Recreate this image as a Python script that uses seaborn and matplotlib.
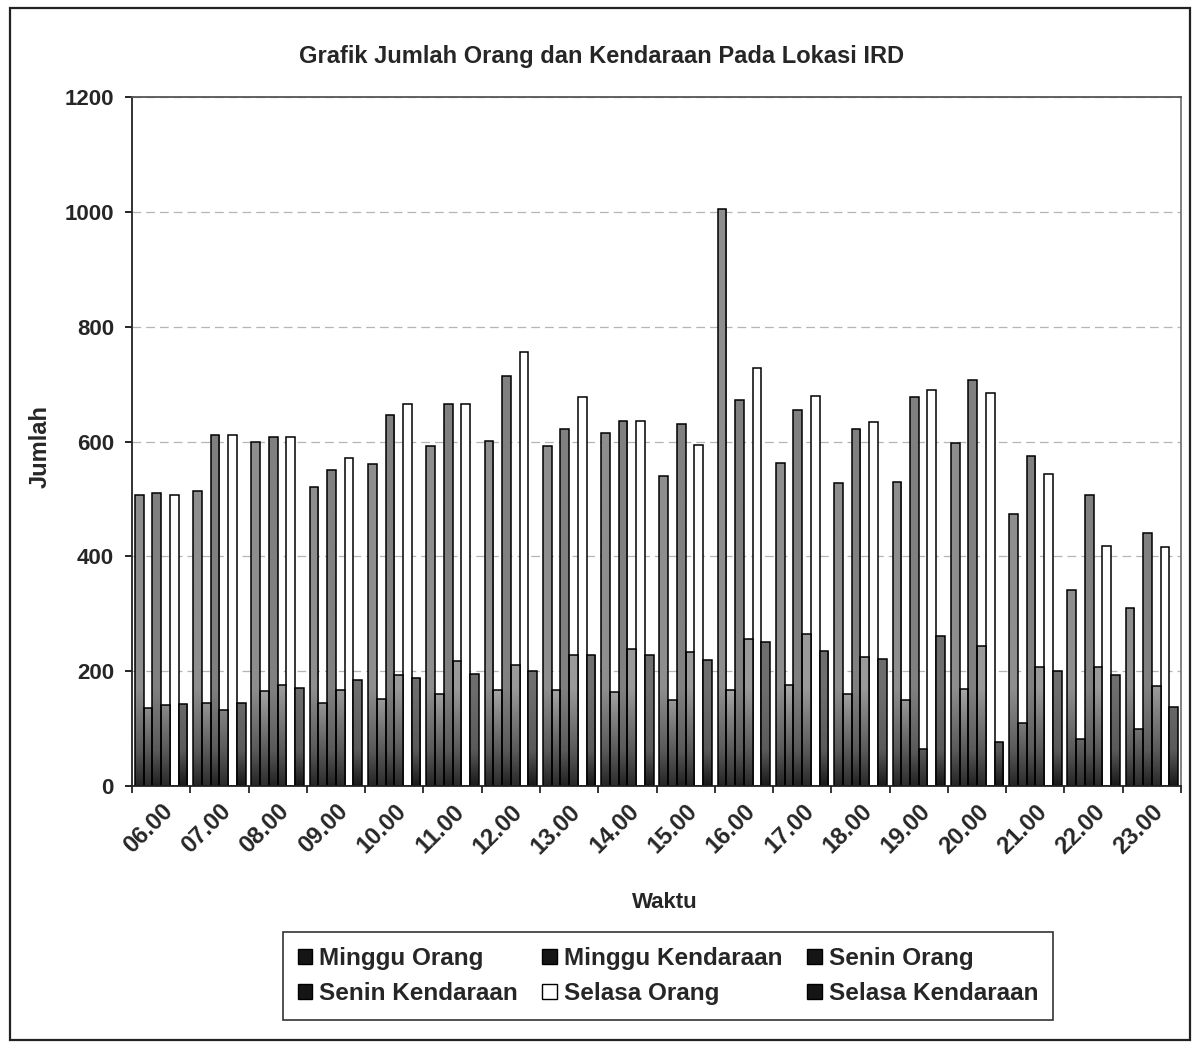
import numpy as np
import pandas as pd
import matplotlib
matplotlib.use("Agg")
import matplotlib.pyplot as plt
from matplotlib.colors import LinearSegmentedColormap
from matplotlib.patches import Patch, Rectangle
import seaborn as sns

# Hourly counts at the IRD location
waktu = ["06.00", "07.00", "08.00", "09.00", "10.00", "11.00", "12.00", "13.00", "14.00",
         "15.00", "16.00", "17.00", "18.00", "19.00", "20.00", "21.00", "22.00", "23.00"]

minggu_orang = [507, 513, 600, 520, 560, 593, 601, 593, 615, 540, 1005, 563, 527, 530, 597, 474, 341, 310]
minggu_kendaraan = [136, 144, 165, 144, 152, 160, 167, 168, 164, 149, 167, 176, 160, 149, 169, 110, 81, 99]
senin_orang = [510, 612, 607, 550, 647, 666, 714, 622, 635, 631, 673, 654, 622, 677, 707, 575, 507, 441]
senin_kendaraan = [141, 133, 176, 167, 193, 217, 210, 228, 239, 233, 256, 264, 225, 65, 244, 207, 207, 175]
selasa_orang = [507, 612, 607, 571, 666, 666, 756, 677, 636, 594, 728, 680, 634, 690, 684, 543, 418, 417]
selasa_kendaraan = [142, 144, 171, 184, 188, 195, 201, 228, 229, 219, 251, 235, 222, 262, 77, 200, 193, 137]

seri = ["Minggu Orang", "Minggu Kendaraan", "Senin Orang",
        "Senin Kendaraan", "Selasa Orang", "Selasa Kendaraan"]
nilai = [minggu_orang, minggu_kendaraan, senin_orang,
         senin_kendaraan, selasa_orang, selasa_kendaraan]

df = pd.concat(
    [pd.DataFrame({"Waktu": waktu, "Jumlah": v, "Seri": s}) for s, v in zip(seri, nilai)],
    ignore_index=True,
)

# Bar shades (body colour, dark foot colour)
warna = {
    "Minggu Orang": ("#8e8e8e", "#262626"),
    "Minggu Kendaraan": ("#a8a8a8", "#2e2e2e"),
    "Senin Orang": ("#808080", "#222222"),
    "Senin Kendaraan": ("#9a9a9a", "#2a2a2a"),
    "Selasa Orang": ("#ffffff", "#ffffff"),
    "Selasa Kendaraan": ("#6e6e6e", "#1a1a1a"),
}

sns.set_theme(style="white")
plt.rcParams["font.family"] = ["Liberation Sans", "DejaVu Sans"]
plt.rcParams["font.weight"] = "bold"

W, H = 1196, 1046
fig = plt.figure(figsize=(W / 100, H / 100), dpi=100)
fig.patch.set_facecolor("white")

ax_l, ax_r, ax_t, ax_b = 132, 1181, 97, 786
ax = fig.add_axes([ax_l / W, 1 - ax_b / H, (ax_r - ax_l) / W, (ax_b - ax_t) / H])

sns.barplot(
    data=df, x="Waktu", y="Jumlah", hue="Seri", order=waktu, hue_order=seri,
    palette={k: v[0] for k, v in warna.items()}, saturation=1, width=0.9,
    errorbar=None, edgecolor="black", linewidth=1.1, legend=False, ax=ax,
)

# Vertical shading on the bars: dark foot fading into the body colour
grad = np.linspace(0, 1, 256).reshape(-1, 1)
for cont, nama in zip(ax.containers, seri):
    if nama == "Selasa Orang":
        continue
    body, foot = warna[nama]
    cmap = LinearSegmentedColormap.from_list(
        nama, [(0.0, foot), (0.05, "#5a5a5a"), (0.14, body), (1.0, body)])
    for bar in cont:
        x0 = bar.get_x()
        x1 = x0 + bar.get_width()
        im = ax.imshow(grad, extent=[x0, x1, 0, 1200], origin="lower", cmap=cmap,
                       vmin=0, vmax=1, aspect="auto", interpolation="bilinear", zorder=1.5)
        im.set_clip_path(bar)
        bar.set_facecolor("none")
        bar.set_zorder(2)

ax.set_xlim(-0.5, len(waktu) - 0.5)
ax.set_ylim(0, 1200)
ax.set_yticks(range(0, 1201, 200))
ax.yaxis.grid(True, color="#b5b5b5", linestyle=(0, (7, 4)), linewidth=0.9)
ax.set_axisbelow(True)

for s in ax.spines.values():
    s.set_visible(True)
    s.set_color("#222222")
    s.set_linewidth(1.3)
ax.spines["right"].set_color("#777777")
ax.spines["top"].set_color("#555555")

ax.tick_params(axis="y", which="major", direction="out", length=5, width=1.2,
               color="black", labelsize=16, pad=8, left=True)
ax.set_xticks(range(len(waktu)))
ax.set_xticklabels(waktu, rotation=45, ha="right", va="top", rotation_mode="anchor",
                   fontsize=17, fontweight="bold")
ax.tick_params(axis="x", which="major", length=0, pad=10)
ax.set_xticks(np.arange(-0.5, len(waktu), 1), minor=True)
ax.tick_params(axis="x", which="minor", direction="out", length=5, width=1.1,
               color="black", bottom=True)
for lab in ax.get_yticklabels():
    lab.set_fontweight("bold")

ax.set_xlabel("")
ax.set_ylabel("")
fig.text(40 / W, 1 - 447 / H, "Jumlah", rotation=90, ha="center", va="center",
         fontsize=17, fontweight="bold")
fig.text(665 / W, 1 - 903 / H, "Waktu", ha="center", va="center",
         fontsize=16, fontweight="bold")
fig.text(602 / W, 1 - 57 / H, "Grafik Jumlah Orang dan Kendaraan Pada Lokasi IRD",
         ha="center", va="center", fontsize=17, fontweight="bold")

# Legend: three columns, filled column by column
legend_face = {"Selasa Orang": "white"}
handles = {s: Patch(facecolor=legend_face.get(s, "#151515"), edgecolor="black",
                    linewidth=1.0, label=s) for s in seri}
order = ["Minggu Orang", "Senin Kendaraan", "Minggu Kendaraan",
         "Selasa Orang", "Senin Orang", "Selasa Kendaraan"]
leg = fig.legend(
    [handles[s] for s in order], order, loc="center", ncol=3,
    bbox_to_anchor=(668 / W, 1 - 976 / H), frameon=True, fancybox=False,
    edgecolor="black", handlelength=0.6, handleheight=0.6,
    handletextpad=0.3, columnspacing=1.0, labelspacing=0.5, borderpad=0.6,
    prop={"weight": "bold", "size": 17.5},
)
leg.get_frame().set_linewidth(1.2)

# Chart area border
fig.add_artist(Rectangle((10 / W, 6 / H), 1180 / W, 1032 / H, transform=fig.transFigure,
                         fill=False, edgecolor="#222222", linewidth=1.6))

fig.savefig("out.png", dpi=100, facecolor="white")
